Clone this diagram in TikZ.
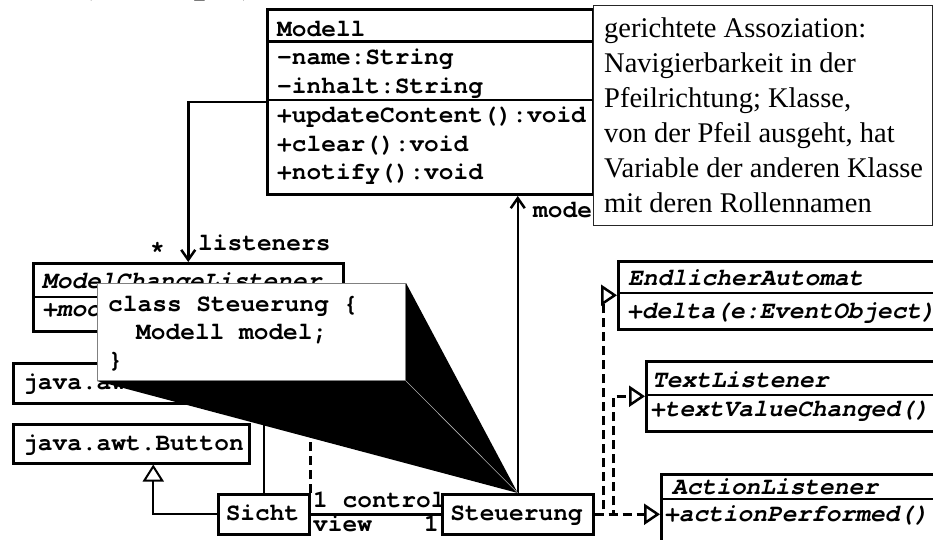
\documentclass[tikz,border=0pt]{standalone}
\usepackage{fontspec}
\setmainfont{Liberation Serif}
\setmonofont{TeX Gyre Cursor}
\usetikzlibrary{arrows.meta}
\begin{document}
\begin{tikzpicture}[x=1pt,y=-1pt,
  box/.style={draw, line width=2.5pt, fill=white, inner sep=0pt, anchor=north west},
  mono/.style={font=\fontsize{24.5}{29}\selectfont\ttfamily\bfseries, inner sep=0pt, anchor=base west},
  imono/.style={font=\fontsize{24.5}{29}\selectfont\ttfamily\bfseries\itshape, inner sep=0pt, anchor=base west},
  serif/.style={font=\fontsize{28.5}{34}\selectfont, inner sep=0pt, anchor=base west},
  sep/.style={line width=2pt},
  hsep/.style={line width=3pt},
  assoc/.style={line width=2.5pt, -{Straight Barb[length=10pt,width=14pt]}},
  plain/.style={line width=2pt},
  gen/.style={line width=2pt, -{Triangle[length=17pt,width=21pt,fill=white]}},
  real/.style={line width=2.5pt, dash pattern=on 9pt off 5pt, -{Triangle[length=16pt,width=21pt,fill=white]}},
  dline/.style={line width=2.5pt, dash pattern=on 9pt off 5pt}
]
\useasboundingbox (0,0) rectangle (933,539);

% partially visible heading
\node[font=\fontsize{40}{40}\selectfont\bfseries\itshape, anchor=base west, inner sep=0pt] (title) at (82,-8) {(Konzepte)};

% boxes
\node[box, minimum width=310pt, minimum height=68pt] (mcl) at (32,262) {};
\node[box, minimum width=290pt, minimum height=40pt] (javatf) at (12,362) {};
\node[box, minimum width=236pt, minimum height=39pt] (button) at (12,423) {};
\node[box, minimum width=91pt, minimum height=40pt] (sicht) at (217,493) {};
\node[box, minimum width=151pt, minimum height=40pt] (steuer) at (441,493) {};
\node[box, minimum width=326pt, minimum height=185pt, line width=3pt] (modell) at (266,8) {};
\node[box, minimum width=330pt, minimum height=68pt] (ea) at (617,260) {};
\node[box, minimum width=300pt, minimum height=70pt] (tl) at (645,360) {};
\node[box, minimum width=290pt, minimum height=80pt] (al) at (660,473) {};

% hidden connectors (under the callout wedge)
\draw[plain] (sicht.north) -- (sicht.north |- javatf.south);
\draw[dline] (sicht.north east) -- (sicht.north east |- mcl.south);

% compartments
\draw[hsep] (modell.west |- 0,41) -- (modell.east |- 0,41);
\draw[sep] (modell.west |- 0,100) -- (modell.east |- 0,100);
\draw[sep] (mcl.west |- 0,297) -- (mcl.east |- 0,297);
\draw[sep] (ea.west |- 0,293) -- (ea.east |- 0,293);
\draw[sep] (tl.west |- 0,395) -- (tl.east |- 0,395);
\draw[sep] (al.west |- 0,499) -- (al.east |- 0,499);

% texts in boxes
\node[mono] (tmod) at (277,36) {Modell};
\node[mono] (tmod1) at (277,64) {-name:String};
\node[mono] (tmod2) at (277,93) {-inhalt:String};
\node[mono] (tmod3) at (277,122) {+updateContent():void};
\node[mono] (tmod4) at (277,151) {+clear():void};
\node[mono] (tmod5) at (277,179) {+notify():void};

\node[imono] (tmcl) at (42,288) {ModelChangeListener};
\node[imono] (tmcl1) at (42,316) {+modelChanged()};
\node[mono] (tjtf) at (23,389) {java.awt.TextField};
\node[mono] (tbtn) at (23,450) {java.awt.Button};
\node[mono, anchor=base] (tsicht) at (262.5,520) {Sicht};
\node[mono, anchor=base] (tsteuer) at (516.5,520) {Steuerung};

\node[imono] (tea) at (628,285) {EndlicherAutomat};
\node[imono] (tea1) at (627,318) {+delta(e:EventObject)};
\node[imono] (ttl) at (652,387) {TextListener};
\node[imono] (ttl1) at (650,416) {+textValueChanged()};
\node[imono] (tal) at (672,494) {ActionListener};
\node[imono] (tal1) at (664,521) {+actionPerformed()};

% connectors
\draw[assoc] (modell.west) -| (mcl.north);
\node[mono] (lstar) at (150,257) {*};
\node[mono] (llist) at (198,250) {listeners};

\draw[assoc] (steuer.north) -- (steuer.north |- modell.south);

\draw[gen] (sicht.west) -| ([xshift=22pt]button.south);
\draw[plain, line width=2.5pt] (sicht.east) -- (steuer.west);
\node[mono] (lctrl) at (313,507) {1 control};
\node[mono] (lview) at (313,531) {view};
\node[mono] (lone) at (424,531) {1};

\draw[real] (steuer.east) -- (steuer.east -| al.west);
\draw[real] (steuer.east) -- ++(9,0) |- (ea.west);
\draw[real] (steuer.east) -- ++(19,0) |- (tl.west);

% callout with wedge
\node[draw=gray, line width=1pt, fill=white, anchor=north west, minimum width=308pt, minimum height=97pt, inner sep=0pt] (callout) at (97,283) {};
\fill[black] (callout.south west) -- (callout.north east) -- (steuer.north) -- cycle;
\draw[gray!60, line width=0.6pt] (callout.south east) -- (steuer.north);
\node[draw=gray, line width=1pt, fill=white, anchor=north west, minimum width=308pt, minimum height=97pt, inner sep=0pt] (callout2) at (97,283) {};
\node[mono] (tc1) at (108,311) {class Steuerung \{};
\node[mono] (tc2) at (136,339) {Modell model;};
\node[mono] (tc3) at (108,367) {\}};

% role label and note
\node[mono] (lmodel) at (533,217) {model};
\node[draw=black!85, line width=1.2pt, fill=white, anchor=north west, minimum width=339pt, minimum height=220pt, inner sep=0pt] (note) at (593,5) {};
\node[serif] (n1) at (604,37) {gerichtete Assoziation:};
\node[serif] (n2) at (604,72) {Navigierbarkeit in der};
\node[serif] (n3) at (604,107) {Pfeilrichtung; Klasse,};
\node[serif] (n4) at (604,142) {von der Pfeil ausgeht, hat};
\node[serif] (n5) at (604,177) {Variable der anderen Klasse};
\node[serif] (n6) at (604,212) {mit deren Rollennamen};
\end{tikzpicture}
\end{document}
